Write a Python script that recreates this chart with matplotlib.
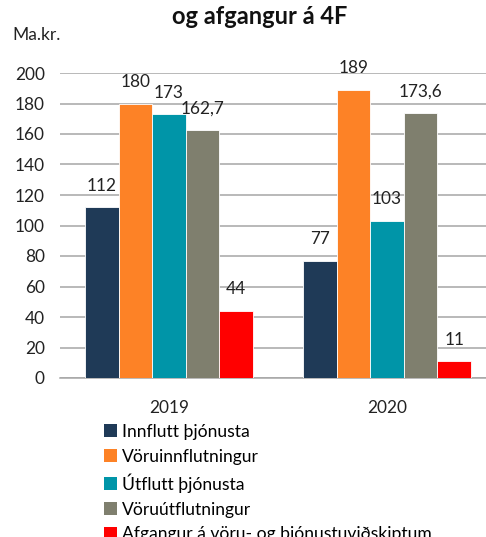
import matplotlib
matplotlib.use("Agg")
import matplotlib.pyplot as plt
import numpy as np
from matplotlib.patches import Patch

plt.rcParams['font.family'] = ['Lato', 'DejaVu Sans']

years = ["2019", "2020"]
series = ["Innflutt þjónusta", "Vöruinnflutningur", "Útflutt þjónusta",
          "Vöruútflutningur", "Afgangur á vöru- og þjónustuviðskiptum"]
values = [
    [112, 77],
    [180, 189],
    [173, 103],
    [162.7, 173.6],
    [44, 11],
]
labels = [
    ["112", "77"],
    ["180", "189"],
    ["173", "103"],
    ["162,7", "173,6"],
    ["44", "11"],
]
colors = ["#1F3A57", "#FD8226", "#0095A8", "#7F7F6E", "#FF0000"]
yticks = [0, 20, 40, 60, 80, 100, 120, 140, 160, 180, 200]

W, H = 486, 537
fig = plt.figure(figsize=(W / 100, H / 100), dpi=100)
ax = fig.add_axes([60 / W, 1 - 378 / H, (W - 60) / W, (378 - 73) / H])

x = np.arange(len(years))
w = 0.154
for i, (s, vals, c) in enumerate(zip(series, values, colors)):
    xs = x + (i - 2) * w
    ax.bar(xs, vals, width=w, color=c, edgecolor="white", linewidth=0.6, zorder=3)
    for xi, v, lab in zip(xs, vals, labels[i]):
        ax.annotate(lab, (xi, v), xytext=(0, 12), textcoords="offset points",
                    ha="center", va="baseline", fontsize=12.4, color="#222222")

ax.set_xlim(-0.5, -0.5 + 426 / 218)
ax.set_ylim(0, 200)
ax.set_yticks(yticks)
ax.set_xticks(x)
ax.set_xticklabels(years)
ax.tick_params(axis="both", length=0, labelsize=12.4, colors="#222222")
ax.tick_params(axis="y", pad=11)
ax.tick_params(axis="x", pad=16)
ax.yaxis.grid(True, color="#A6A6A6", linewidth=1.1, zorder=0)
ax.set_axisbelow(True)
for sp in ["top", "right", "left"]:
    ax.spines[sp].set_visible(False)
ax.spines["bottom"].set_color("#A6A6A6")
ax.spines["bottom"].set_linewidth(1.1)

fig.text(260 / W, 1 - 17 / H, "og afgangur á 4F", ha="center", va="center",
         fontsize=17, fontweight="bold", color="#111111")
fig.text(12 / W, 1 - 35 / H, "Ma.kr.", ha="left", va="center", fontsize=12.5,
         color="#222222")

handles = [Patch(facecolor=c, edgecolor="none") for c in colors]
fig.legend(handles, series, loc="upper left",
           bbox_to_anchor=(104 / W, 1 - 424 / H), frameon=False,
           fontsize=12.6, handlelength=0.75, handleheight=0.75,
           handletextpad=0.3, labelspacing=0.5, borderaxespad=0, borderpad=0)

fig.savefig("out.png", dpi=100)
